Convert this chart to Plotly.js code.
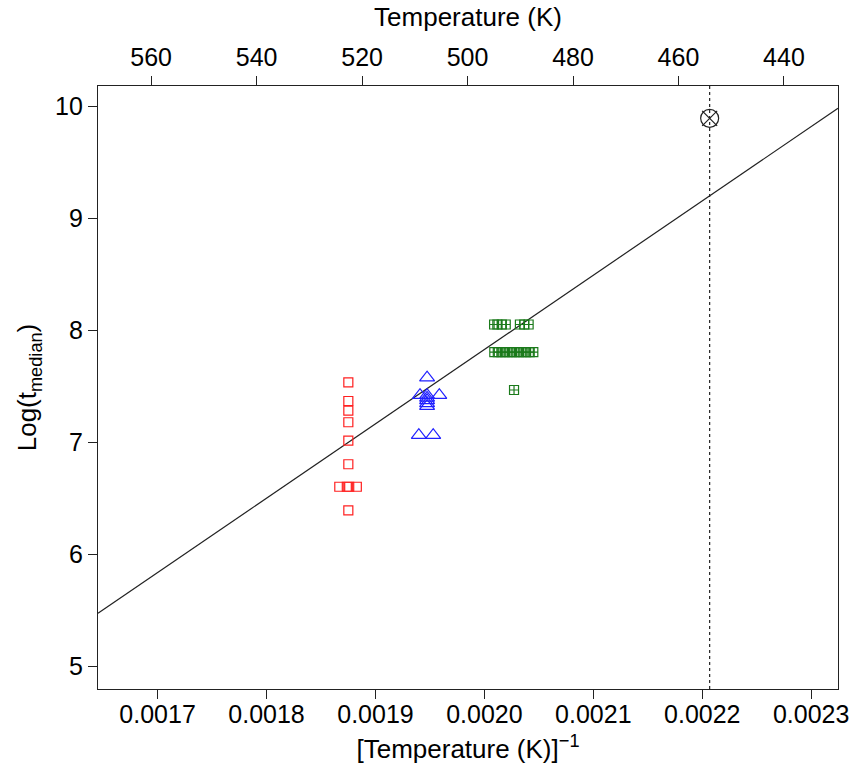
<!DOCTYPE html>
<html>
<head>
<meta charset="utf-8">
<script src="https://cdn.plot.ly/plotly-3.0.1.min.js"></script>
<style>
  html, body { margin: 0; padding: 0; background: #fff; }
  #chart { width: 852px; height: 776px; }
</style>
</head>
<body>
<div id="chart"></div>
<script>
// ---- Data ----
// 260 °C group (red open squares)
const redX = [0.0018751, 0.0018751, 0.0018751, 0.0018751, 0.0018751, 0.0018751, 0.0018751,
              0.0018668, 0.0018737, 0.0018759, 0.0018829];
const redY = [7.539, 7.372, 7.286, 7.182, 7.018, 6.807, 6.396,
              6.606, 6.606, 6.606, 6.606];

// 240 °C group (blue open triangles)
const blueX = [0.0019474,
               0.0019409, 0.0019474, 0.0019586,
               0.0019474, 0.0019474, 0.0019474, 0.0019474,
               0.0019398, 0.0019530];
const blueY = [7.580,
               7.424, 7.424, 7.424,
               7.400, 7.378, 7.351, 7.327,
               7.067, 7.067];

// 220 °C group (green squares with plus)
const greenX = [0.0020089, 0.0020119, 0.0020160, 0.0020196, 0.0020326, 0.0020366, 0.0020406,
                0.0020091, 0.0020123, 0.0020156, 0.0020188, 0.0020221, 0.0020253,
                0.0020286, 0.0020318, 0.0020351, 0.0020383, 0.0020416, 0.0020449,
                0.0020272];
const greenY = [8.055, 8.055, 8.055, 8.055, 8.055, 8.055, 8.055,
                7.808, 7.808, 7.808, 7.808, 7.808, 7.808,
                7.808, 7.808, 7.808, 7.808, 7.808, 7.808,
                7.470];

// Extrapolated point at 180 °C (453.15 K)
const refTemp = 453.15;
const predX = [1 / refTemp];
const predY = [9.896];

// Arrhenius fit: log(t) = intercept + slope * (1/T)
const fitIntercept = -5.444;
const fitSlope = 6637.7;

// Axis ticks
const invTicks = [0.0017, 0.0018, 0.0019, 0.0020, 0.0021, 0.0022, 0.0023];
const invTickText = ['0.0017', '0.0018', '0.0019', '0.0020', '0.0021', '0.0022', '0.0023'];
const tempTicks = [560, 540, 520, 500, 480, 460, 440];
const logTicks = [5, 6, 7, 8, 9, 10];

// ---- Layout constants ----
const xRange = [0.0016453, 0.0023246];
const tRange = [570.08, 429.75];
const yRange = [4.80, 10.185];

const FONT = 'Liberation Sans, Arial, Helvetica, sans-serif';
const INK = '#222';

const fitX = xRange.slice();
const fitY = fitX.map(v => fitIntercept + fitSlope * v);

const traces = [
  { x: fitX, y: fitY, mode: 'lines', line: { color: INK, width: 1.2 },
    hoverinfo: 'skip', showlegend: false },
  { x: redX, y: redY, mode: 'markers',
    marker: { symbol: 'square-open', size: 9, color: '#ff2020', line: { width: 1.2 } },
    showlegend: false },
  { x: blueX, y: blueY, mode: 'markers',
    marker: { symbol: 'triangle-up-open', size: 13, color: '#2020ff', line: { width: 1.2 } },
    showlegend: false },
  { x: greenX, y: greenY, mode: 'markers',
    marker: { symbol: 'square-cross-open', size: 9, color: '#1b7a1b', line: { width: 1.2 } },
    showlegend: false },
  { x: predX, y: predY, mode: 'markers',
    marker: { symbol: 'circle-open', size: 18, color: INK, line: { width: 1.2 } },
    showlegend: false },
  { x: predX, y: predY, mode: 'markers',
    marker: { symbol: 'x-thin-open', size: 15, color: INK, line: { width: 1.2 } },
    showlegend: false },
  // empty trace so the top temperature axis is created
  { x: [], y: [], xaxis: 'x2', yaxis: 'y', mode: 'markers', showlegend: false, hoverinfo: 'skip' }
];

const layout = {
  width: 852, height: 776,
  margin: { l: 98, r: 14, t: 86, b: 87 },
  paper_bgcolor: '#fff', plot_bgcolor: '#fff',
  font: { family: FONT, color: '#000', size: 25 },
  showlegend: false,
  xaxis: {
    range: xRange, tickvals: invTicks, ticktext: invTickText,
    ticks: 'outside', ticklen: 9, tickwidth: 1, tickcolor: INK,
    showline: true, linecolor: INK, linewidth: 1.2, mirror: true,
    showgrid: false, zeroline: false, ticklabelstandoff: -6,
    tickfont: { size: 25, family: FONT, color: '#000' },
    title: { text: '[Temperature (K)]<sup>−1</sup>', font: { size: 26, family: FONT, color: '#000' }, standoff: 12 }
  },
  xaxis2: {
    overlaying: 'x', side: 'top', anchor: 'y',
    range: tRange, tickvals: tempTicks, ticktext: tempTicks.map(String),
    ticks: 'outside', ticklen: 9, tickwidth: 1, tickcolor: INK,
    showline: false, showgrid: false, zeroline: false,
    tickfont: { size: 25, family: FONT, color: '#000' },
    title: { text: 'Temperature (K)', font: { size: 26, family: FONT, color: '#000' }, standoff: 8 }
  },
  yaxis: {
    range: yRange, tickvals: logTicks, ticktext: logTicks.map(String),
    ticks: 'outside', ticklen: 9, tickwidth: 1, tickcolor: INK,
    showline: true, linecolor: INK, linewidth: 1.2, mirror: true,
    showgrid: false, zeroline: false,
    tickfont: { size: 25, family: FONT, color: '#000' },
    title: { text: 'Log(t<sub>median</sub>)', font: { size: 26, family: FONT, color: '#000' }, standoff: 10 }
  },
  shapes: [
    { type: 'line', xref: 'x', yref: 'paper', x0: 1 / refTemp, x1: 1 / refTemp, y0: 0, y1: 1,
      line: { color: INK, width: 1.2, dash: 'dot' } }
  ]
};

Plotly.newPlot('chart', traces, layout, { displayModeBar: false, staticPlot: true });
</script>
</body>
</html>
